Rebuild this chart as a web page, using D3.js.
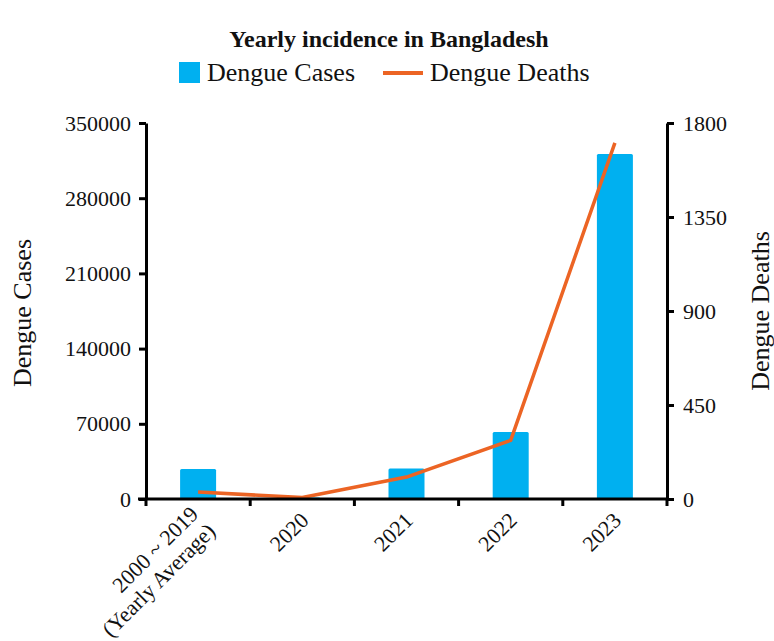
<!DOCTYPE html>
<html>
<head>
<meta charset="utf-8">
<script src="https://cdn.jsdelivr.net/npm/d3@7"></script>
<style>
  html, body { margin: 0; padding: 0; background: #fff; }
  svg { display: block; }
  text { font-family: "Liberation Serif", "Times New Roman", serif; fill: #111; }
</style>
</head>
<body>
<svg id="chart" width="774" height="641"></svg>
<script>
// Yearly dengue incidence in Bangladesh
const categories = ["2000 ~ 2019|(Yearly Average)", "2020", "2021", "2022", "2023"];
const dengueCases = [27850, 1405, 28429, 62382, 321179];
const dengueDeaths = [33, 7, 105, 281, 1705];
const casesTicks = [0, 70000, 140000, 210000, 280000, 350000];
const deathsTicks = [0, 450, 900, 1350, 1800];

const svg = d3.select("#chart");
const plot = { left: 146, right: 667, top: 123, bottom: 499 };

const x = d3.scaleBand().domain(categories).range([plot.left, plot.right]).paddingInner(0).paddingOuter(0);
const yL = d3.scaleLinear().domain([0, 350000]).range([plot.bottom, plot.top]);
const yR = d3.scaleLinear().domain([0, 1800]).range([plot.bottom, plot.top]);

const barW = 36;
const blue = "#00B0F0";
const orange = "#EC6424";

// Title
svg.append("text")
  .attr("x", 389).attr("y", 47)
  .attr("text-anchor", "middle")
  .style("font-size", "24px").style("font-weight", "bold")
  .text("Yearly incidence in Bangladesh");

// Legend
const lg = svg.append("g");
lg.append("rect").attr("x", 179).attr("y", 62).attr("width", 21).attr("height", 21).attr("fill", blue);
lg.append("text").attr("x", 207).attr("y", 81).style("font-size", "26px").text("Dengue Cases");
lg.append("line").attr("x1", 383).attr("x2", 423).attr("y1", 73).attr("y2", 73)
  .attr("stroke", orange).attr("stroke-width", 4);
lg.append("text").attr("x", 430).attr("y", 81).style("font-size", "26px").text("Dengue Deaths");

// Bars (cases)
svg.append("g").selectAll("rect")
  .data(categories)
  .join("rect")
  .attr("x", (d) => x(d) + x.bandwidth() / 2 - barW / 2)
  .attr("y", (d, i) => yL(dengueCases[i]))
  .attr("width", barW)
  .attr("height", (d, i) => plot.bottom - yL(dengueCases[i]))
  .attr("rx", 1.5)
  .attr("fill", blue);

// Line (deaths)
const line = d3.line()
  .x((d, i) => x(categories[i]) + x.bandwidth() / 2)
  .y((d) => yR(d));
svg.append("path")
  .datum(dengueDeaths)
  .attr("d", line)
  .attr("fill", "none")
  .attr("stroke", orange)
  .attr("stroke-width", 3.5)
  .attr("stroke-linejoin", "round");

// Axes
function styleAxis(g) {
  g.select(".domain").attr("stroke", "#000").attr("stroke-width", 3);
  g.selectAll(".tick line").attr("stroke", "#000").attr("stroke-width", 3);
  g.selectAll(".tick text").style("font-size", "22px").attr("fill", "#111")
    .style("font-family", "'Liberation Serif', 'Times New Roman', serif");
}

const leftAxis = svg.append("g")
  .attr("transform", `translate(${plot.left},0)`)
  .call(d3.axisLeft(yL).tickValues(casesTicks).tickFormat(d3.format("d")).tickSize(7).tickSizeOuter(0).tickPadding(8));
styleAxis(leftAxis);

const rightAxis = svg.append("g")
  .attr("transform", `translate(${plot.right},0)`)
  .call(d3.axisRight(yR).tickValues(deathsTicks).tickFormat(d3.format("d")).tickSize(7).tickSizeOuter(0).tickPadding(9));
styleAxis(rightAxis);

// Bottom axis: ticks on band edges, labels rotated under each band
const edges = categories.map((c) => x(c)).concat([plot.right]);
const bottom = svg.append("g");
bottom.append("line")
  .attr("x1", plot.left - 8).attr("x2", plot.right + 1.5)
  .attr("y1", plot.bottom).attr("y2", plot.bottom)
  .attr("stroke", "#000").attr("stroke-width", 3);
bottom.selectAll("line.tk")
  .data(edges)
  .join("line")
  .attr("class", "tk")
  .attr("x1", (d) => d).attr("x2", (d) => d)
  .attr("y1", plot.bottom).attr("y2", plot.bottom + 7)
  .attr("stroke", "#000").attr("stroke-width", 3);

const labels = bottom.selectAll("text.xl")
  .data(categories)
  .join("text")
  .attr("class", "xl")
  .attr("text-anchor", "end")
  .style("font-size", "22px")
  .attr("transform", (d) => `translate(${x(d) + x.bandwidth() / 2 + 3},${plot.bottom + 18}) rotate(-45)`);
labels.each(function (d) {
  const parts = d.split("|");
  const t = d3.select(this);
  parts.forEach((p, i) => {
    t.append("tspan").attr("x", 0).attr("dy", i === 0 ? (parts.length > 1 ? "-0.1em" : "0.3em") : "1.1em").text(p);
  });
});

// Axis titles
svg.append("text")
  .attr("transform", "translate(31,313) rotate(-90)")
  .attr("text-anchor", "middle")
  .style("font-size", "26px")
  .text("Dengue Cases");
svg.append("text")
  .attr("transform", "translate(769,311) rotate(-90)")
  .attr("text-anchor", "middle")
  .style("font-size", "26px")
  .text("Dengue Deaths");
</script>
</body>
</html>
